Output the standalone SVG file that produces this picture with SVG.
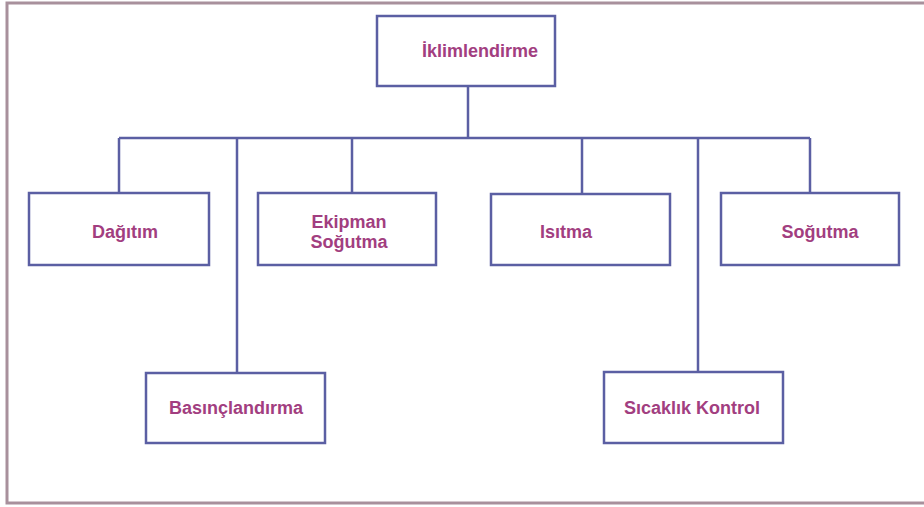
<svg xmlns="http://www.w3.org/2000/svg" width="924" height="507" viewBox="0 0 924 507">
<style>
.box{fill:#ffffff;stroke:#5b5fa3;stroke-width:2.5}
.ln{fill:none;stroke:#5b5fa3;stroke-width:2.5}
.t{font-family:"Liberation Sans",Arial,sans-serif;font-weight:bold;font-size:18px;fill:#a23e80;text-anchor:middle}
</style>
<rect x="0" y="0" width="924" height="507" fill="#ffffff"/>
<rect x="7" y="3" width="930" height="500" fill="none" stroke="#a8909c" stroke-width="3"/>
<g id="connectors">
<path class="ln" d="M468 86 V138 M119 138 H810 M119 138 V193 M352 138 V193 M582 138 V193 M810 138 V193 M237 138 V373 M698 138 V372"/>
</g>
<g id="iklimlendirme"><rect class="box" x="377" y="16" width="178" height="70"/><text class="t" x="480" y="57">İklimlendirme</text></g>
<g id="dagitim"><rect class="box" x="29" y="193" width="180" height="72"/><text class="t" x="125" y="238">Dağıtım</text></g>
<g id="ekipman"><rect class="box" x="258" y="193" width="178" height="72"/><text class="t" x="349" y="228">Ekipman</text><text class="t" x="349" y="248">Soğutma</text></g>
<g id="isitma"><rect class="box" x="491" y="194" width="179" height="71"/><text class="t" x="566" y="238">Isıtma</text></g>
<g id="sogutma"><rect class="box" x="721" y="193" width="178" height="72"/><text class="t" x="820" y="238">Soğutma</text></g>
<g id="basinclandirma"><rect class="box" x="146" y="373" width="179" height="70"/><text class="t" x="236" y="414">Basınçlandırma</text></g>
<g id="sicaklik"><rect class="box" x="604" y="372" width="179" height="71"/><text class="t" x="692" y="414">Sıcaklık Kontrol</text></g>
</svg>
